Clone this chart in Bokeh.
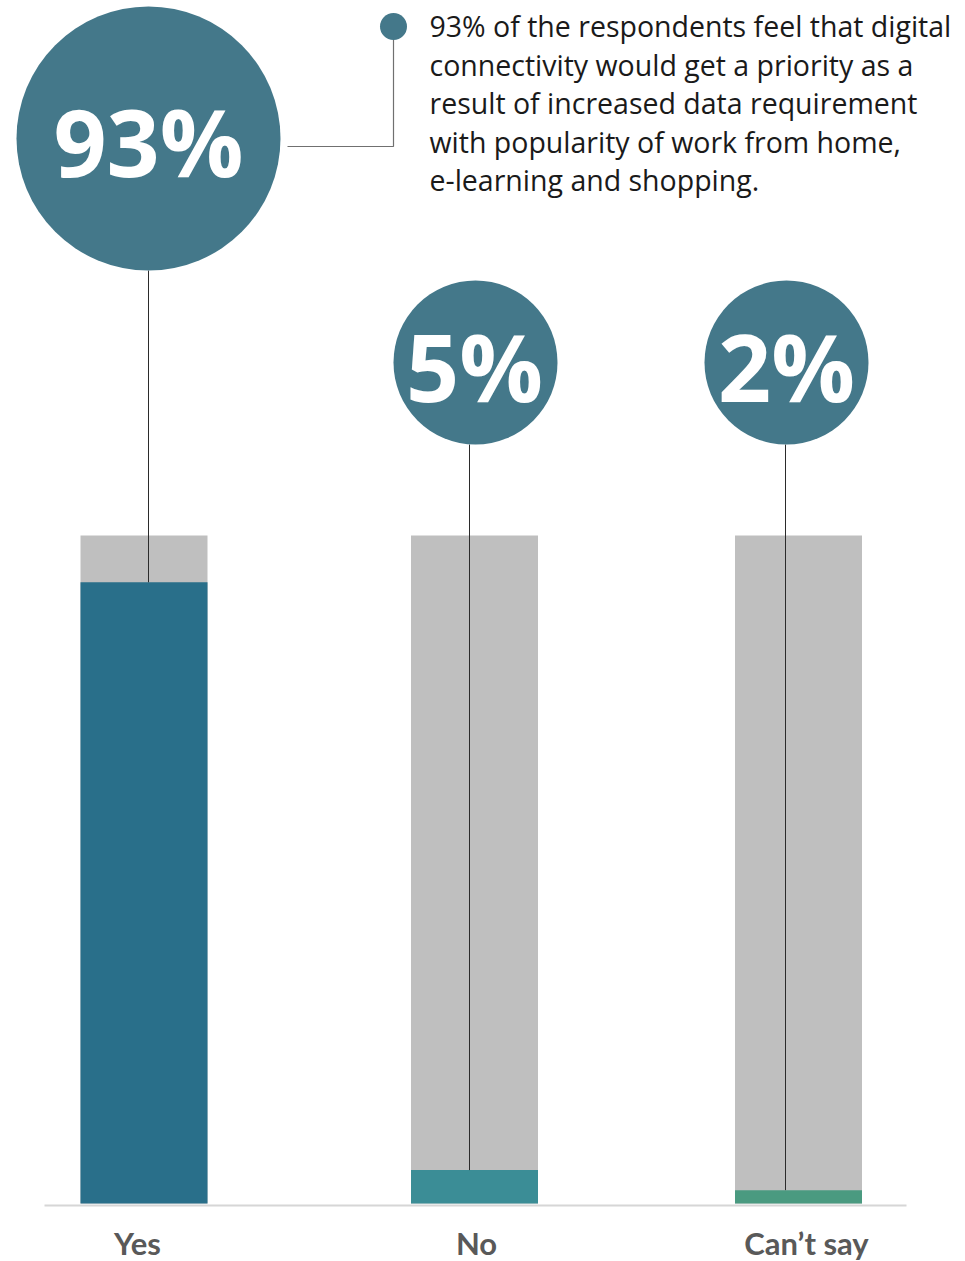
from bokeh.plotting import figure
from bokeh.models import Range1d
from bokeh.core.properties import value
from bokeh.embed import file_html
from bokeh.resources import INLINE

# ---- data ----
categories = ["Yes", "No", "Can\u2019t say"]
values = [93, 5, 2]
pct_labels = ["93%", "5%", "2%"]
note_lines = [
    "93% of the respondents feel that digital",
    "connectivity would get a priority as a",
    "result of increased data requirement",
    "with popularity of work from home,",
    "e-learning and shopping.",
]

# ---- layout (screen pixels) ----
W, H = 960, 1261
Y0 = 1203.0          # screen y of 0 %
PXP = 6.68           # pixels per percent


def y(sy):
    return (Y0 - sy) / PXP


bar_x = [143.5, 474, 798]
bar_w = 127
bar_colors = ["#296F8A", "#3B8D96", "#4A9A80"]
line_x = [148, 469, 785]
bub_x = [148, 475, 786]
bub_y = [138, 362, 362]
bub_d = [264, 164, 164]

p = figure(width=W, height=H, x_range=Range1d(0, W),
           y_range=Range1d(y(H), y(0)), output_backend="svg",
           toolbar_location=None, x_axis_location=None, y_axis_location=None,
           min_border=0, outline_line_color=None)
p.grid.visible = False

# background (100%) bars
p.vbar(x=bar_x, width=bar_w, bottom=0, top=[100] * 3, fill_color="#BFBFBF", line_color=None)
# value bars
p.vbar(x=bar_x, width=bar_w, bottom=0, top=values, fill_color=bar_colors, line_color=None)

# baseline
p.segment(x0=[44], y0=[y(1205)], x1=[906], y1=[y(1205)], line_color="#D6D6D6", line_width=2)

# connectors from bubbles to bar value
bub_bottom = [y(by + d / 2) for by, d in zip(bub_y, bub_d)]
p.segment(x0=line_x, y0=bub_bottom, x1=line_x, y1=values, line_color="#2b2b2b", line_width=1)

# bubbles
p.scatter(x=bub_x, y=[y(v) for v in bub_y], size=bub_d, marker="circle",
          fill_color="#44788A", line_color=None)

# bubble texts
p.text(x=[148, 474, 786], y=[y(140), y(365), y(365)], text=pct_labels,
       text_font=value("Open Sans"), text_font_style="bold", text_font_size=value("93px"),
       text_color="white", text_align="center", text_baseline="middle")

# category labels
p.text(x=[137, 476, 806], y=[y(1242)] * 3, text=categories,
       text_font=value("Lato"), text_font_style="bold", text_font_size=value("31px"),
       text_color="#595959", text_align="center", text_baseline="middle")

# annotation connector
p.line(x=[287, 393, 393], y=[y(146), y(146), y(26)], line_color="#707070", line_width=1.2)
p.scatter(x=[393], y=[y(26)], size=27, marker="circle", fill_color="#44788A", line_color=None)

# annotation text
p.text(x=[429] * 5, y=[y(25.5 + 38.5 * i) for i in range(5)], text=note_lines,
       text_font=value("Open Sans"), text_font_size=value("28.5px"),
       text_color="#1a1a1a", text_align="left", text_baseline="middle")

open("out.html", "w").write(file_html(p, INLINE))
